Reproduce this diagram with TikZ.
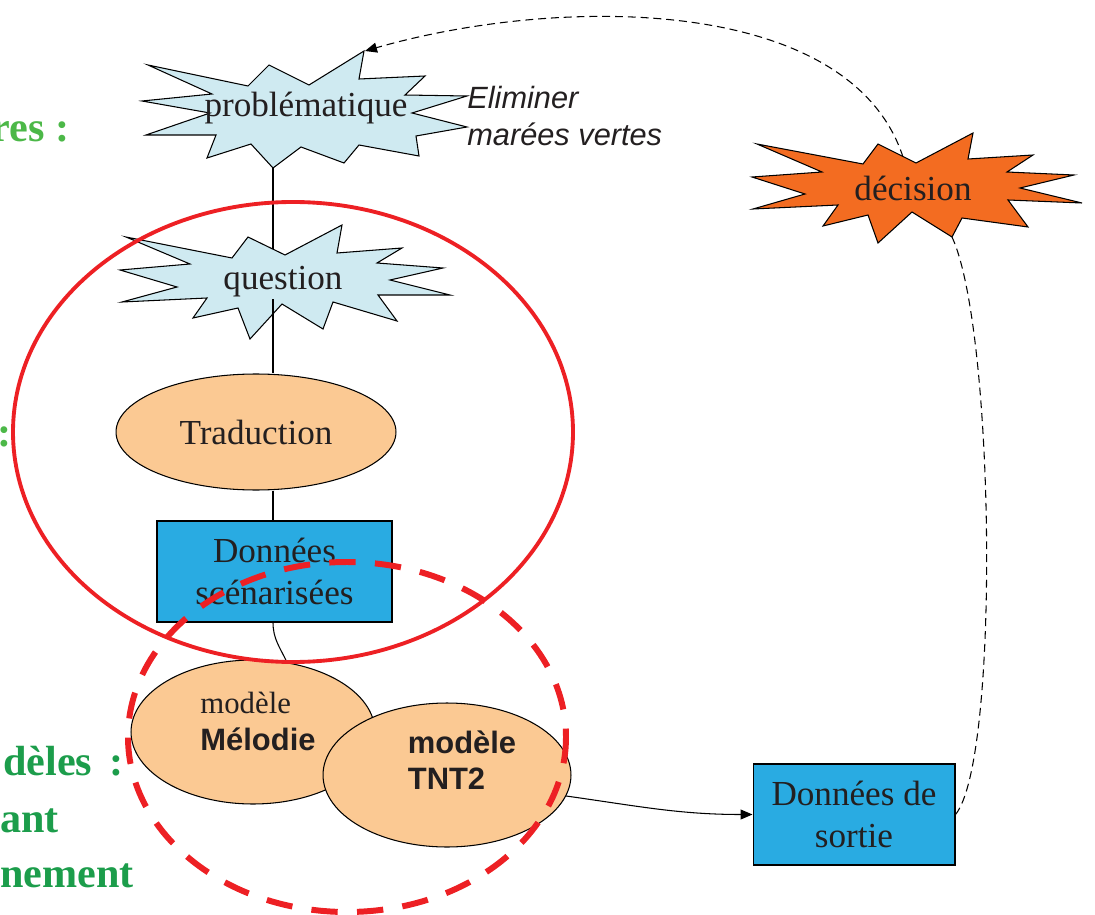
\documentclass[tikz,border=0pt]{standalone}
\usepackage{fontspec}
\setmainfont{Liberation Serif}
\setsansfont{Liberation Sans}
\usetikzlibrary{shapes.geometric, arrows.meta}

\definecolor{ink}{RGB}{35,31,32}
\definecolor{burstblue}{RGB}{207,234,241}
\definecolor{burstorange}{RGB}{243,108,33}
\definecolor{peach}{RGB}{251,201,147}
\definecolor{boxblue}{RGB}{41,171,226}
\definecolor{ringred}{RGB}{237,32,36}
\definecolor{lightgreen}{RGB}{76,184,72}
\definecolor{darkgreen}{RGB}{28,157,75}

\newcommand\serifbig{\fontsize{20}{24.4}\selectfont}
\newcommand\sansmid{\sffamily\fontsize{17.6}{20.5}\selectfont}

\begin{document}
\begin{tikzpicture}[x=0.02cm, y=-0.02cm,
    burst/.style={draw=black, line width=0.6pt, line join=miter},
    oval/.style={ellipse, draw, line width=0.6pt, fill=peach, inner sep=0pt},
    databox/.style={draw, line width=0.6pt, fill=boxblue, minimum width=4.7cm,
      minimum height=2.02cm, align=center, font=\serifbig, text=ink},
    label/.style={font=\serifbig, text=ink, inner sep=1pt},
    link/.style={line width=0.6pt},
    back/.style={line width=0.6pt, dash pattern=on 4.5pt off 2.8pt},
    greenlbl/.style={font=\fontsize{24}{32}\selectfont\bfseries, inner sep=0pt},
  ]
  \useasboundingbox (0,0) rectangle (1095,915);

  % Green titles, cut at the left edge
  \node[greenlbl, lightgreen, anchor=base east] (tRes) at (70,142) {res :};
  \node[greenlbl, lightgreen, anchor=base east] (tColon) at (12,446) {:};
  \node[greenlbl, darkgreen, anchor=base west] (tDeles) at (3,775)
    {dèles\hspace{0.4em}:};
  \node[greenlbl, darkgreen, anchor=base west] (tAnt) at (0,832) {ant};
  \node[greenlbl, darkgreen, anchor=base west] (tNement) at (0,887) {nement};

  % Named points on the bursts
  \coordinate (probTip) at (365,51);
  \coordinate (probS) at (273,168);
  \coordinate (decTop) at (903,157);
  \coordinate (decLow) at (952,237);

  % Main vertical line
  \node[label] (ques) at (283,282) {question};
  \draw[link] (probS) -- (probS |- ques.center);

  % problematique
  \draw[burst, fill=burstblue] (364,51) -- (359,79) -- (425,76) -- (405,95)
    -- (467,96) -- (412,113) -- (467,127) -- (416,136) -- (419,156)
    -- (359,145) -- (344,163) -- (301,147) -- (273,168) -- (251,144)
    -- (207,158) -- (216,135) -- (146,135) -- (210,113) -- (142,101)
    -- (212,94) -- (148,65) -- (248,86) -- (269,65) -- (309,85) -- cycle;
  \node[label] (prob) at (306,108) {problématique};
  \node[anchor=west, align=left, inner sep=0pt, text=ink,
    font=\sffamily\itshape\fontsize{17.5}{21}\selectfont] (goal) at (467,116)
    {Eliminer\\marées vertes};

  % question
  \draw[burst, fill=burstblue] (342,225) -- (337,253) -- (402,248) -- (377,263)
    -- (443,268) -- (390,280) -- (450,295) -- (378,295) -- (397,321)
    -- (333,302) -- (323,329) -- (282,304) -- (250,339) -- (238,308)
    -- (193,318) -- (207,298) -- (122,302) -- (177,287) -- (120,270)
    -- (190,264) -- (126,237) -- (232,258) -- (248,237) -- (285,255) -- cycle;
  \node[label] at (ques) {question};

  % Traduction and scenario data
  \node[oval, minimum width=5.6cm, minimum height=2.32cm, font=\serifbig,
    text=ink] (trad) at (256,432) {Traduction};
  \draw[link] (probS |- ques.south) -- (probS |- trad.north);
  \node[databox] (scen) at (274.5,571.5) {Données\\scénarisées};
  \draw[link] (probS |- trad.south) -- (probS |- scen.north);

  % Models
  \node[oval, minimum width=4.88cm, minimum height=2.88cm] (melo) at (253,732) {};
  \draw[link] (probS |- scen.south) to[out=-90, in=115] (melo.64);
  \node[align=left, inner sep=0pt, text=ink] (meloTxt) at (258,721)
    {{\fontsize{17.5}{20}\selectfont modèle}\\[7pt]{\sansmid\bfseries Mélodie}};
  \node[oval, minimum width=4.96cm, minimum height=2.88cm] (tnt) at (447,775) {};
  \node[align=left, inner sep=0pt, text=ink, font=\sansmid\bfseries]
    (tntTxt) at (462,760) {modèle\\TNT2};

  % Output
  \node[databox, minimum width=4.04cm] (sortie) at (854,814.5) {Données de\\sortie};
  \draw[link, -{Triangle[length=2.4mm, width=2mm]}] (tnt.-10)
    to[out=-8, in=180] (sortie.west);

  % Feedback loop
  \draw[back] (sortie.east) .. controls (1000,760) and (995,330) .. (decLow);
  \draw[back, -{Triangle[length=2.4mm, width=2mm]}] (decTop)
    .. controls (850,-5) and (560,-5) .. (probTip);

  % decision
  \draw[burst, fill=burstorange] (973,133) -- (968,159) -- (1033,155) -- (1007,172)
    -- (1074,175) -- (1020,188) -- (1082,203) -- (1008,200) -- (1028,227)
    -- (962,218) -- (952,237) -- (912,212) -- (878,243) -- (868,215)
    -- (823,226) -- (838,205) -- (753,209) -- (805,194) -- (752,177)
    -- (822,172) -- (757,144) -- (863,164) -- (878,144) -- (916,163) -- cycle;
  \node[label] (dec) at (913,188) {décision};

  % Highlight rings
  \draw[ringred, line width=2.2pt] (293,432) ellipse [x radius=280, y radius=230];
  \draw[ringred, line width=3.4pt, dash pattern=on 15pt off 11pt]
    (347,737) ellipse [x radius=219, y radius=175];
\end{tikzpicture}
\end{document}
